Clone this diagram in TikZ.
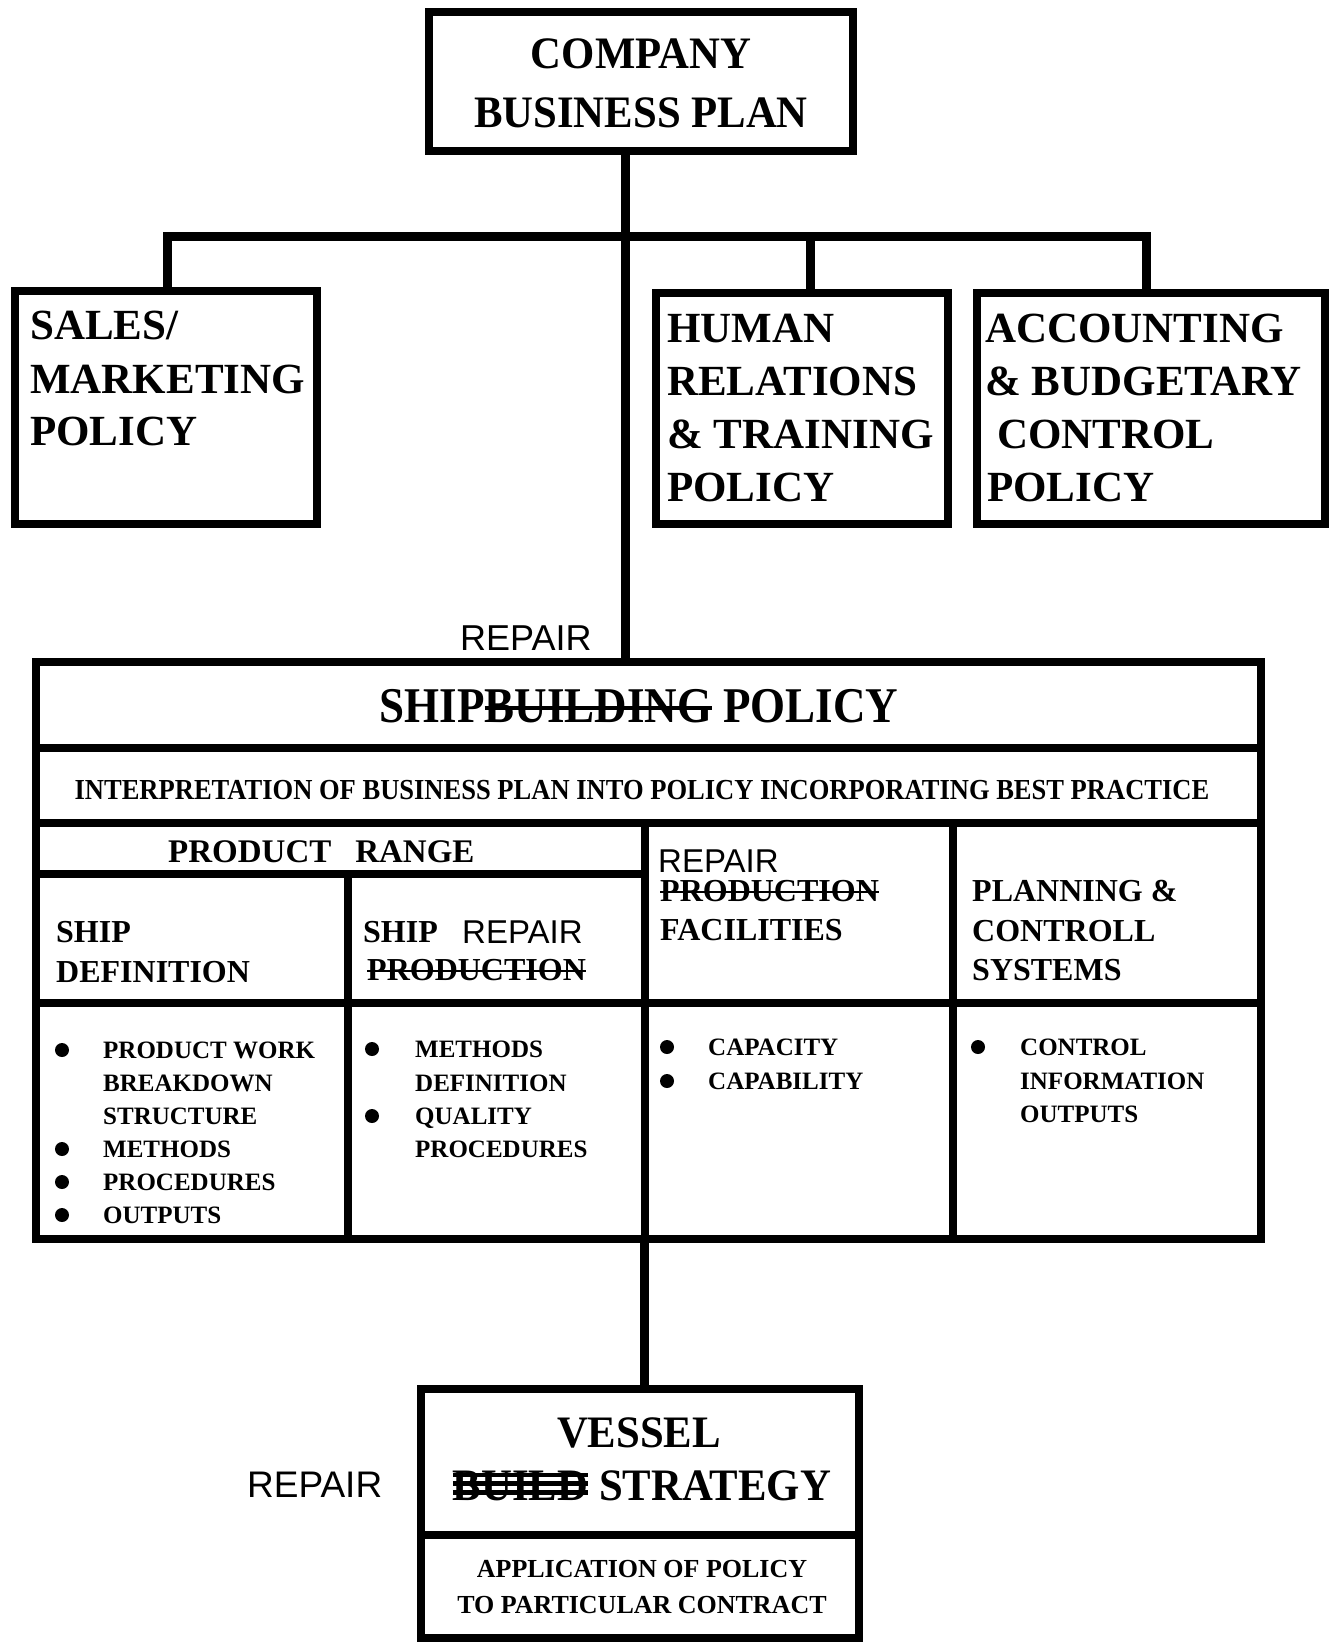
\documentclass[tikz,border=0pt]{standalone}
\usepackage{fontspec}
\usepackage{graphicx}
\setmainfont{Liberation Serif}
\newfontfamily\handfont{Liberation Sans}
\newsavebox\stbox
\newcommand\strk[1]{\sbox\stbox{#1}\rlap{\usebox\stbox}\rule[0.36\ht\stbox]{\wd\stbox}{0.09em}}
\newcommand\scrib[1]{\sbox\stbox{#1}\rlap{\usebox\stbox}\rlap{\rule[0.18\ht\stbox]{\wd\stbox}{0.1em}}\rlap{\rule[0.48\ht\stbox]{\wd\stbox}{0.1em}}\rule[0.78\ht\stbox]{\wd\stbox}{0.08em}}
\newcommand\fs[1]{\fontsize{#1}{#1}\selectfont}
\begin{document}
\begin{tikzpicture}[x=1pt,y=-1pt,
  boxnode/.style={draw, line width=8pt, rectangle, inner sep=0pt, outer sep=0pt},
  conn/.style={line width=9pt, line join=miter},
  gridline/.style={line width=8pt},
  lefttxt/.style={inner sep=0pt, anchor=base west, font=\bfseries\fs{#1}},
  midtxt/.style={inner sep=0pt, anchor=base, font=\bfseries\fs{#1}},
  handtxt/.style={inner sep=0pt, anchor=base west, font=\handfont\fs{#1}},
  bulletdot/.style={circle, fill, inner sep=0pt, minimum size=14pt}]
\useasboundingbox (0,0) rectangle (1335,1642);

% boxes
\node[boxnode, minimum width=424pt, minimum height=139pt] (company) at (641,81.5) {};
\node[boxnode, minimum width=302pt, minimum height=233pt] (sales) at (166,407.5) {};
\node[boxnode, minimum width=292pt, minimum height=231pt] (human) at (802,408.5) {};
\node[boxnode, minimum width=348pt, minimum height=231pt] (acct) at (1151,408.5) {};
\node[boxnode, minimum width=1225pt, minimum height=577pt] (ship) at (648.5,950.5) {};
\node[boxnode, minimum width=438pt, minimum height=249pt] (vessel) at (640,1513.5) {};

% connectors
\coordinate (bus) at (625,236);
\coordinate (bl) at (167,236);
\coordinate (bh) at (810,236);
\coordinate (br) at (1146,236);
\coordinate (vt) at (644,1300);
\draw[conn] (company.south -| bus) -- (ship.north -| bus);
\draw[conn] (sales.north -| bl) -- (bl) -- (br) -- (acct.north -| br);
\draw[conn] (bh) -- (human.north -| bh);
\draw[conn] (ship.south -| vt) -- (vessel.north -| vt);

% grid inside shipbuilding policy
\draw[gridline] (36,748) -- (1261,748);
\draw[gridline] (36,823) -- (1261,823);
\draw[gridline] (36,874) -- (645,874);
\draw[gridline] (36,1003) -- (1261,1003);
\draw[gridline] (348,874) -- (348,1239);
\draw[gridline] (645,823) -- (645,1239);
\draw[gridline] (953,823) -- (953,1239);
% vessel divider
\draw[gridline] (421,1535) -- (859,1535);

% company
\node[midtxt=45] (t1) at (641,68) {\scalebox{0.95}[1]{COMPANY}};
\node[midtxt=45] (t2) at (641,127) {\scalebox{0.95}[1]{BUSINESS PLAN}};
% sales
\node[lefttxt=43] (s1) at (30,339) {SALES/};
\node[lefttxt=43] (s2) at (30,393) {MARKETING};
\node[lefttxt=43] (s3) at (30,445) {POLICY};
% human
\node[lefttxt=43] (h1) at (667,342) {HUMAN};
\node[lefttxt=43] (h2) at (667,395) {RELATIONS};
\node[lefttxt=43] (h3) at (667,448) {\& TRAINING};
\node[lefttxt=43] (h4) at (667,501) {POLICY};
% accounting
\node[lefttxt=43] (a1) at (985,342) {ACCOUNTING};
\node[lefttxt=43] (a2) at (985,395) {\& BUDGETARY};
\node[lefttxt=43] (a3) at (997,448) {CONTROL};
\node[lefttxt=43] (a4) at (987,501) {POLICY};

% shipbuilding
\node[handtxt=36] (r1) at (460,650) {REPAIR};
\node[midtxt=50] (sp) at (639,722) {\scalebox{0.9}[1]{SHIP\strk{BUILDING} POLICY}};
\node[midtxt=29] (ip) at (642,799) {\scalebox{0.915}[1]{INTERPRETATION OF BUSINESS PLAN INTO POLICY INCORPORATING BEST PRACTICE}};
\node[lefttxt=33] (pr) at (168,862) {PRODUCT\hspace*{24pt}RANGE};

% headers
\node[lefttxt=32] (c1a) at (56,942) {SHIP};
\node[lefttxt=32] (c1b) at (56,982) {DEFINITION};
\node[lefttxt=32] (c2a) at (363,942) {SHIP};
\node[handtxt=33] (c2r) at (462,943) {REPAIR};
\node[lefttxt=32] (c2b) at (367,980) {\strk{PRODUCTION}};
\node[handtxt=33] (c3r) at (658,872) {REPAIR};
\node[lefttxt=32] (c3a) at (660,901) {\strk{PRODUCTION}};
\node[lefttxt=32] (c3b) at (660,940) {FACILITIES};
\node[lefttxt=32] (c4a) at (972,901) {PLANNING \&};
\node[lefttxt=32] (c4b) at (972,941) {CONTROLL};
\node[lefttxt=32] (c4c) at (972,980) {SYSTEMS};

% bullets column 1
\node[bulletdot] (d11) at (62,1050) {};
\node[bulletdot] (d12) at (62,1149) {};
\node[bulletdot] (d13) at (62,1182) {};
\node[bulletdot] (d14) at (62,1215) {};
\node[lefttxt=25] (e11) at (103,1058) {PRODUCT WORK};
\node[lefttxt=25] (e12) at (103,1091) {BREAKDOWN};
\node[lefttxt=25] (e13) at (103,1124) {STRUCTURE};
\node[lefttxt=25] (e14) at (103,1157) {METHODS};
\node[lefttxt=25] (e15) at (103,1190) {PROCEDURES};
\node[lefttxt=25] (e16) at (103,1223) {OUTPUTS};
% column 2
\node[bulletdot] (d21) at (372,1049) {};
\node[bulletdot] (d22) at (372,1116) {};
\node[lefttxt=25] (e21) at (415,1057) {METHODS};
\node[lefttxt=25] (e22) at (415,1091) {DEFINITION};
\node[lefttxt=25] (e23) at (415,1124) {QUALITY};
\node[lefttxt=25] (e24) at (415,1157) {PROCEDURES};
% column 3
\node[bulletdot] (d31) at (667,1047) {};
\node[bulletdot] (d32) at (667,1081) {};
\node[lefttxt=25] (e31) at (708,1055) {CAPACITY};
\node[lefttxt=25] (e32) at (708,1089) {CAPABILITY};
% column 4
\node[bulletdot] (d41) at (978,1047) {};
\node[lefttxt=25] (e41) at (1020,1055) {CONTROL};
\node[lefttxt=25] (e42) at (1020,1089) {INFORMATION};
\node[lefttxt=25] (e43) at (1020,1122) {OUTPUTS};

% vessel
\node[handtxt=37] (vr) at (247,1497) {REPAIR};
\node[midtxt=45] (v1) at (639,1447) {\scalebox{0.95}[1]{VESSEL}};
\node[midtxt=45] (v2) at (642,1500) {\scalebox{0.95}[1]{\scrib{BUILD} STRATEGY}};
\node[midtxt=26] (ap1) at (642,1577) {APPLICATION OF POLICY};
\node[midtxt=26] (ap2) at (642,1613) {TO PARTICULAR CONTRACT};
\end{tikzpicture}
\end{document}
